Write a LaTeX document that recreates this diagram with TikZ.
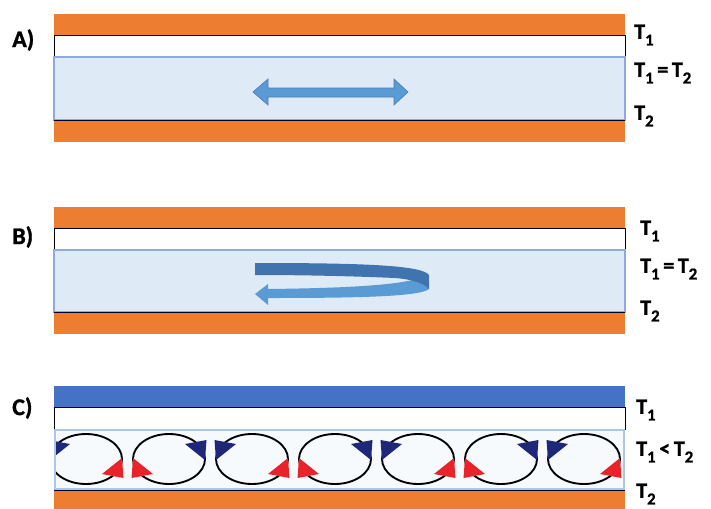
\documentclass[tikz,border=0pt]{standalone}
\usepackage{fontspec}
\setmainfont{Carlito}[BoldFeatures={FakeBold=1.2}]
\definecolor{plateorange}{HTML}{ED7D31}
\definecolor{plateblue}{HTML}{4472C4}
\definecolor{fluid}{HTML}{DEEBF7}
\definecolor{fluidedge}{HTML}{8FAADC}
\definecolor{flow}{HTML}{5B9BD5}
\definecolor{flowedge}{HTML}{4A7EBB}
\definecolor{flowdark}{HTML}{4174AE}
\definecolor{coldtip}{HTML}{1F2878}
\definecolor{hottip}{HTML}{E8232A}
\definecolor{cellfill}{HTML}{F7FAFD}
\definecolor{celledge}{HTML}{A9C7E8}
\newcommand{\Tsub}[1]{T\raisebox{-0.3em}{\fontsize{12.5pt}{13pt}\selectfont #1}}
\begin{document}
\begin{tikzpicture}[x=0.75pt,y=-0.75pt,
  plate/.style={fill=plateorange,draw=none},
  coldplate/.style={fill=plateblue,draw=none},
  gap/.style={fill=white,draw=black,line width=0.6pt},
  layer/.style={fill=fluid,draw=fluidedge,line width=0.8pt},
  floor/.style={draw=black!85!blue,line width=1pt},
  tlabel/.style={anchor=west,inner sep=0pt,font=\fontsize{16.5pt}{18pt}\selectfont\bfseries},
  plabel/.style={anchor=west,inner sep=0pt,font=\fontsize{18pt}{20pt}\selectfont\bfseries},
  roll/.style={draw=black,line width=1.4pt},
  flowarrow/.style={fill=flow,draw=flowedge,line width=0.5pt}]
\useasboundingbox (0,0) rectangle (711,508);

% ---------- A) uniform temperature, back-and-forth flow ----------
\fill[plate] (54,14) rectangle (625,35);
\draw[gap] (54,35) rectangle (625,57);
\draw[layer] (54,57) rectangle (625,120);
\draw[floor] (54,120.5) -- (625,120.5);
\fill[plate] (54,121) rectangle (625,142);
\draw[flowarrow] (253,92) -- (268,79) -- (268,88) -- (394,88) -- (394,79)
  -- (408,92) -- (394,105) -- (394,97) -- (268,97) -- (268,105) -- cycle;
\node[plabel] (la) at (12,40) {A)};
\node[tlabel] (a1) at (634,35) {\Tsub{1}};
\node[tlabel] (a2) at (634,73) {\Tsub{1}\,=\,\Tsub{2}};
\node[tlabel] (a3) at (634,116) {\Tsub{2}};

% ---------- B) uniform temperature, returning flow ----------
\fill[plate] (54,207) rectangle (625,228);
\draw[gap] (54,228) rectangle (625,250);
\draw[layer] (54,250) rectangle (625,312);
\draw[floor] (54,312.5) -- (625,312.5);
\fill[plate] (54,313) rectangle (625,334);
% lower, returning half of the ribbon with its arrow head
\fill[flow] (428,274) .. controls (414,285) and (350,288) .. (268,289)
  -- (268,284) -- (255,294) -- (268,305) -- (268,298)
  .. controls (350,298) and (420,297) .. (429,289) -- cycle;
% upper half of the ribbon, seen from above
\fill[flowdark] (255,263) .. controls (360,263) and (422,265) .. (429,275)
  -- (429,289) .. controls (424,283) and (410,279) .. (395,278)
  .. controls (350,276) and (300,275) .. (255,275) -- cycle;
\node[plabel] (lb) at (12,237) {B)};
\node[tlabel] (b1) at (640,231) {\Tsub{1}};
\node[tlabel] (b2) at (640,269) {\Tsub{1}\,=\,\Tsub{2}};
\node[tlabel] (b3) at (640,311) {\Tsub{2}};

% ---------- C) heated from below, convection rolls ----------
\fill[coldplate] (54,386) rectangle (625,407);
\draw[gap] (54,407) rectangle (625,429);
\draw[fill=cellfill,draw=celledge,line width=1.6pt] (55,430) rectangle (624,489);
\draw[floor] (54,490.5) -- (625,490.5);
\fill[plate] (54,491) rectangle (625,512);
\begin{scope}
  \clip (56,431) rectangle (623,488);
  \foreach \i in {0,...,6} {
    \pgfmathsetmacro\cx{86+83*\i}
    \pgfmathsetmacro\s{ifthenelse(mod(\i,2)==0,1,-1)}
    \draw[roll] (\cx,459) ellipse [x radius=27pt, y radius=18.75pt];
    % warm fluid rising
    \fill[hottip] (\cx+36*\s,458) -- (\cx+37.5*\s,478) -- (\cx+16*\s,474) -- cycle;
    % cool fluid sinking
    \fill[coldtip] (\cx-36*\s,460) -- (\cx-37.5*\s,440) -- (\cx-16*\s,444) -- cycle;
  }
\end{scope}
\node[plabel] (lc) at (12,408) {C)};
\node[tlabel] (c1) at (636,410) {\Tsub{1}};
\node[tlabel] (c2) at (636,452) {\Tsub{1}\,<\,\Tsub{2}};
\node[tlabel] (c3) at (636,494) {\Tsub{2}};
\end{tikzpicture}
\end{document}
